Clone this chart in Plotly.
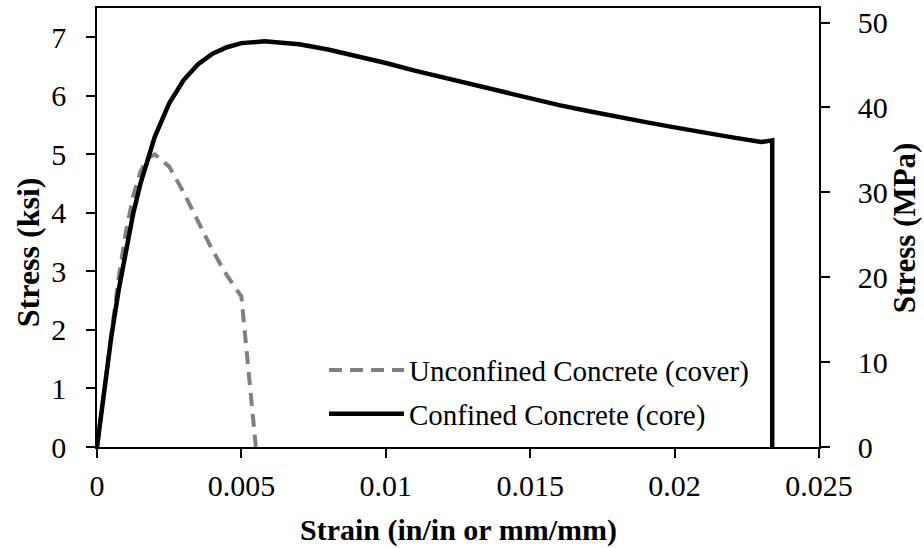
import plotly.graph_objects as go

# Stress-strain data (strain in in/in, stress in ksi)
unconfined_strain = [0, 0.00025, 0.0005, 0.00075, 0.001, 0.00125, 0.0015, 0.00175,
                     0.002, 0.0025, 0.003, 0.0035, 0.004, 0.0045, 0.005, 0.0055]
unconfined_stress = [0, 1.00, 1.98, 2.89, 3.67, 4.28, 4.70, 4.93,
                     5.00, 4.79, 4.35, 3.84, 3.36, 2.93, 2.57, 0]

confined_strain = [0, 0.00025, 0.0005, 0.00075, 0.001, 0.00125, 0.0015, 0.00175, 0.002,
                   0.0025, 0.003, 0.0035, 0.004, 0.0045, 0.005, 0.0058, 0.007, 0.008,
                   0.009, 0.01, 0.011, 0.012, 0.013, 0.014, 0.015, 0.016, 0.017, 0.018,
                   0.019, 0.02, 0.021, 0.022, 0.023, 0.0232, 0.02333, 0.02338, 0.02338]
confined_stress = [0, 0.98, 1.90, 2.68, 3.38, 3.98, 4.49, 4.93, 5.30,
                   5.87, 6.27, 6.54, 6.72, 6.83, 6.90, 6.93, 6.88, 6.79,
                   6.68, 6.56, 6.43, 6.31, 6.18, 6.07, 5.95, 5.84, 5.74, 5.64,
                   5.55, 5.46, 5.37, 5.29, 5.21, 5.23, 5.25, 5.24, 0]

KSI_TO_MPA = 6.894757
y_max_ksi = 7.5

FONT = "Liberation Serif, Times New Roman, serif"

fig = go.Figure()

fig.add_trace(go.Scatter(
    x=unconfined_strain, y=unconfined_stress, mode="lines",
    name="Unconfined Concrete (cover)", legendgroup="a",
    line=dict(color="#808080", width=4, dash="13px,8px"),
))
fig.add_trace(go.Scatter(
    x=confined_strain, y=confined_stress, mode="lines",
    name="Confined Concrete (core)", legendgroup="b",
    line=dict(color="#000000", width=4.5),
))
# Same confined curve expressed in MPa, transparent, so the secondary axis is drawn
fig.add_trace(go.Scatter(
    x=confined_strain, y=[s * KSI_TO_MPA for s in confined_stress], mode="lines",
    yaxis="y2", showlegend=False, hoverinfo="skip",
    line=dict(color="rgba(0,0,0,0)", width=0),
))

axis_common = dict(
    showgrid=False, zeroline=False, showline=True, linecolor="black", linewidth=1.5,
    ticks="outside", ticklen=9, tickwidth=1.5, tickcolor="black",
    tickfont=dict(family=FONT, size=30, color="black"),
)

fig.update_layout(
    width=924, height=548,
    margin=dict(l=97, r=105, t=6, b=101),
    paper_bgcolor="white", plot_bgcolor="white",
    font=dict(family=FONT, color="black"),
    xaxis=dict(range=[0, 0.025], dtick=0.005, tick0=0, mirror=True,
               ticklabelstandoff=2, **axis_common),
    yaxis=dict(range=[0, y_max_ksi], dtick=1, tick0=0,
               ticklabelstandoff=14, **axis_common),
    yaxis2=dict(range=[0, y_max_ksi * KSI_TO_MPA], dtick=10, tick0=0,
                overlaying="y", side="right", anchor="x",
                ticklabelstandoff=22, **axis_common),
    showlegend=True,
    legend=dict(
        x=(324 - 97) / 722, y=(446.7 - 344) / 441, xanchor="left", yanchor="top",
        bgcolor="rgba(0,0,0,0)", borderwidth=0, itemwidth=75,
        font=dict(family=FONT, size=29, color="black"),
        traceorder="grouped", tracegroupgap=3,
    ),
    annotations=[
        dict(text="<b>Strain (in/in or mm/mm)</b>", xref="paper", yref="paper",
             x=0.5, y=0, xanchor="center", yanchor="middle", yshift=-83,
             showarrow=False, font=dict(family=FONT, size=30, color="black")),
        dict(text="<b>Stress (ksi)</b>", xref="paper", yref="paper",
             x=0, y=(446.7 - 251) / 441, xanchor="center", yanchor="middle",
             xshift=-69, textangle=-90,
             showarrow=False, font=dict(family=FONT, size=32, color="black")),
        dict(text="<b>Stress (MPa)</b>", xref="paper", yref="paper",
             x=1, y=(446.7 - 227) / 441, xanchor="center", yanchor="middle",
             xshift=85, textangle=-90,
             showarrow=False, font=dict(family=FONT, size=31, color="black")),
    ],
)

fig.write_html("out.html")
